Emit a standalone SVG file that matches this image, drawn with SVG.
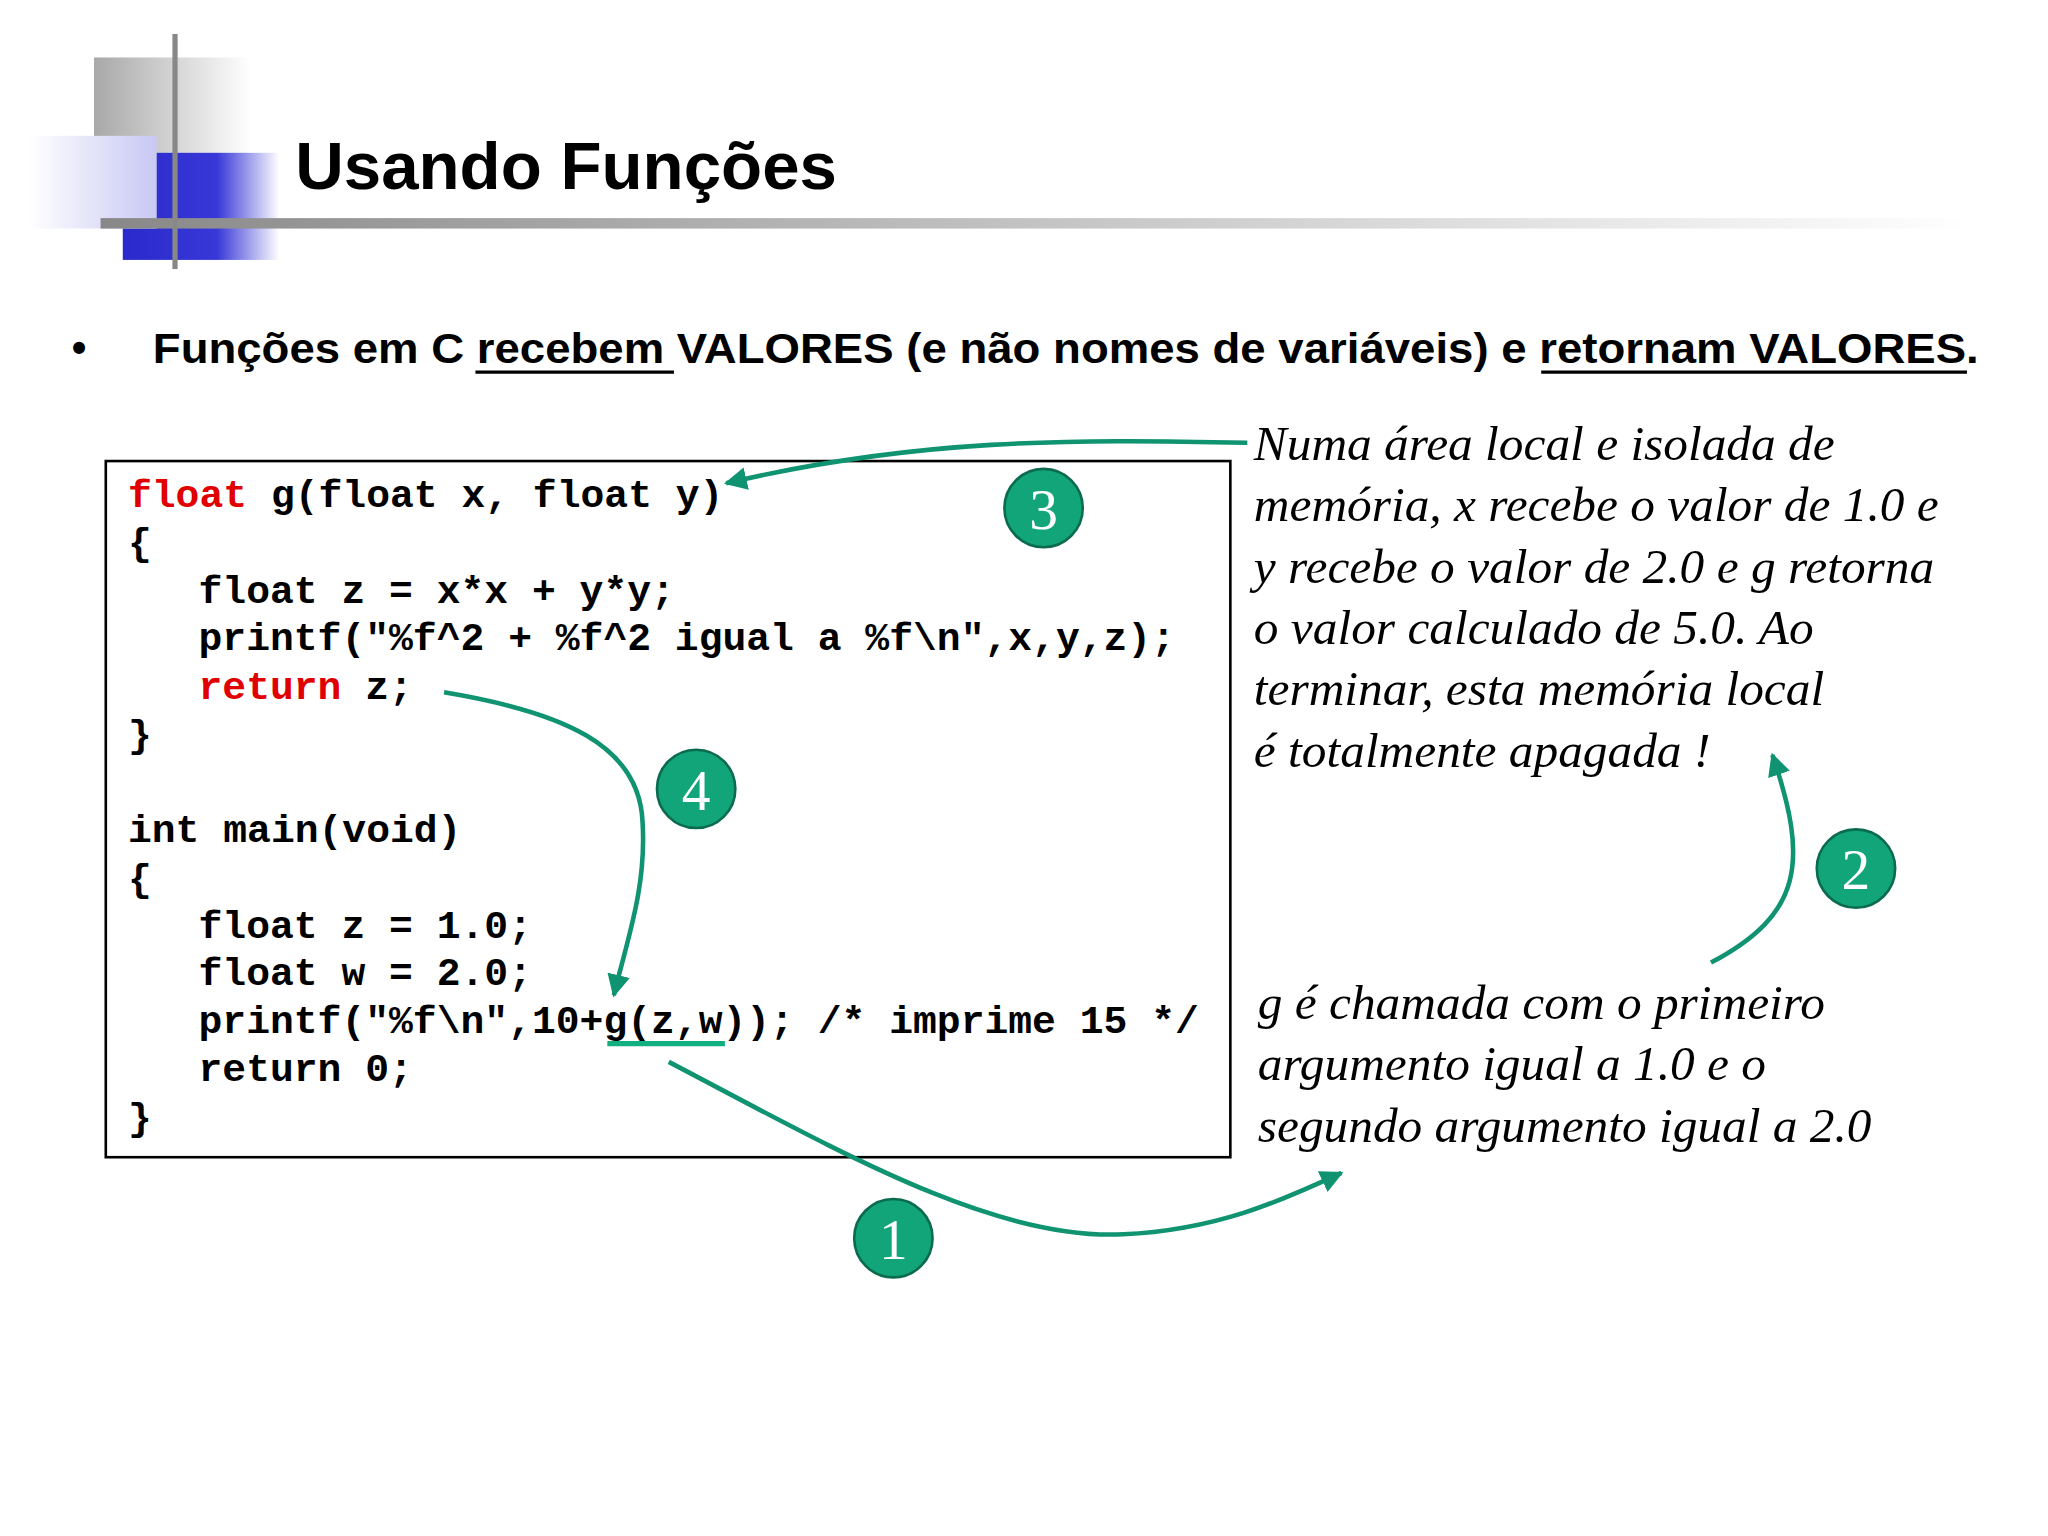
<svg xmlns="http://www.w3.org/2000/svg" width="2048" height="1536" viewBox="0 0 2048 1536">
<style>
.code{font-family:"Liberation Mono",monospace;font-weight:bold;font-size:30.4px;fill:#000}
.kw{fill:#e00000}
.it{font-family:"Liberation Serif",serif;font-style:italic;font-size:37.8px;fill:#000}
.num{font-family:"Liberation Serif",serif;font-size:44px;fill:#fff;text-anchor:middle}
.circ{fill:#12a57a;stroke:#0b6b4f;stroke-width:2}
.arr{fill:none;stroke:#0f9370;stroke-width:3.5;marker-end:url(#ah)}
</style>
<defs>
<marker id="ah" viewBox="0 0 10 10" refX="9" refY="5" markerWidth="5" markerHeight="5" orient="auto"><path d="M0,0 L10,5 L0,10 z" fill="#0f9370"/></marker>
<linearGradient id="gg" x1="0" x2="1"><stop offset="0" stop-color="#a8a8a8"/><stop offset="1" stop-color="#fff"/></linearGradient>
<linearGradient id="gb" x1="0" x2="1"><stop offset="0" stop-color="#2a2acc"/><stop offset="0.6" stop-color="#3838d8"/><stop offset="1" stop-color="#fff"/></linearGradient>
<linearGradient id="gl" x1="0" x2="1"><stop offset="0" stop-color="#fff"/><stop offset="1" stop-color="#c8c8f4"/></linearGradient>
<linearGradient id="gline" x1="0" x2="1"><stop offset="0" stop-color="#888"/><stop offset="1" stop-color="#fff"/></linearGradient>
</defs>
<rect width="2048" height="1536" fill="#fff"/>
<g transform="scale(1.3061)">
<g id="logo">
<rect x="72" y="44" width="120" height="122" fill="url(#gg)"/>
<rect x="94" y="117" width="120" height="82" fill="url(#gb)"/>
<rect x="22" y="104" width="98" height="71" fill="url(#gl)"/>
<rect x="77" y="167" width="1435" height="8" fill="url(#gline)"/>
<rect x="132" y="26" width="4" height="180" fill="#888"/>
</g>
<text x="226" y="145" font-family="Liberation Sans,sans-serif" font-weight="bold" font-size="51.5">Usando Funções</text>
<g id="bullet" font-family="Liberation Sans,sans-serif" font-weight="bold" font-size="32">
<text x="55" y="277">•</text>
<text x="117" y="278" textLength="1398" lengthAdjust="spacingAndGlyphs">Funções em C recebem VALORES (e não nomes de variáveis) e retornam VALORES.</text>
<line x1="364" y1="285" x2="516" y2="285" stroke="#000" stroke-width="2.5"/>
<line x1="1180" y1="285" x2="1506" y2="285" stroke="#000" stroke-width="2.5"/>
</g>
<g id="code">
<rect x="81" y="353" width="861" height="533" fill="none" stroke="#000" stroke-width="2"/>
<text class="code" x="98" y="388"><tspan class="kw">float</tspan> g(float x, float y)</text>
<text class="code" x="98" y="425">{</text>
<text class="code" x="152" y="462">float z = x*x + y*y;</text>
<text class="code" x="152" y="498">printf("%f^2 + %f^2 igual a %f\n",x,y,z);</text>
<text class="code" x="152" y="535"><tspan class="kw">return</tspan> z;</text>
<text class="code" x="98" y="572">}</text>
<text class="code" x="98" y="645">int main(void)</text>
<text class="code" x="98" y="682">{</text>
<text class="code" x="152" y="718">float z = 1.0;</text>
<text class="code" x="152" y="754">float w = 2.0;</text>
<text class="code" x="152" y="791">printf("%f\n",10+g(z,w)); /* imprime 15 */</text>
<text class="code" x="152" y="828">return 0;</text>
<text class="code" x="98" y="865">}</text>
<line x1="465" y1="799" x2="555" y2="799" stroke="#12b080" stroke-width="4"/>
</g>
<g id="text-top">
<text class="it" x="960" y="352">Numa área local e isolada de</text>
<text class="it" x="960" y="399">memória, x recebe o valor de 1.0 e</text>
<text class="it" x="960" y="446">y recebe o valor de 2.0 e g retorna</text>
<text class="it" x="960" y="493">o valor calculado de 5.0. Ao</text>
<text class="it" x="960" y="540">terminar, esta memória local</text>
<text class="it" x="960" y="587">é totalmente apagada !</text>
</g>
<g id="text-bottom">
<text class="it" x="963" y="780">g é chamada com o primeiro</text>
<text class="it" x="963" y="827">argumento igual a 1.0 e o</text>
<text class="it" x="963" y="874">segundo argumento igual a 2.0</text>
</g>
<g id="connectors">
<path class="arr" d="M955,339 C820,336 700,336 556,370"/>
<path class="arr" d="M340,530 C430,545 490,570 492,630 C495,680 480,720 470,762"/>
<path class="arr" d="M1310,737 C1380,700 1385,660 1357,578"/>
<path class="arr" d="M512,813 C640,880 760,950 860,945 C930,942 980,920 1027,898"/>
</g>
<g id="n3"><circle class="circ" cx="799" cy="389" r="30"/><text class="num" x="799" y="405">3</text></g>
<g id="n4"><circle class="circ" cx="533" cy="604" r="30"/><text class="num" x="533" y="620">4</text></g>
<g id="n2"><circle class="circ" cx="1421" cy="665" r="30"/><text class="num" x="1421" y="681">2</text></g>
<g id="n1"><circle class="circ" cx="684" cy="948" r="30"/><text class="num" x="684" y="964">1</text></g>
</g>
</svg>
